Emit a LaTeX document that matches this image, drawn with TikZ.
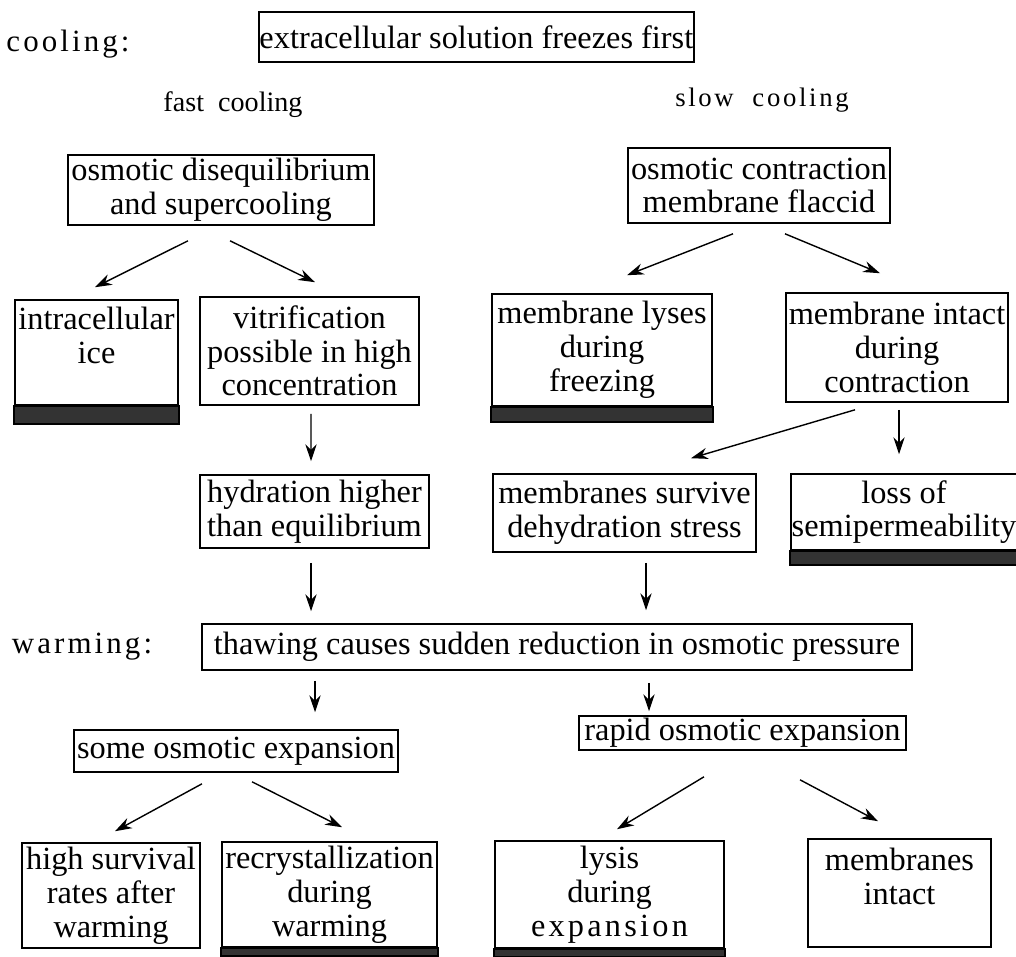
\documentclass[tikz,border=0pt]{standalone}
\usepackage{fontspec}
\setmainfont{Liberation Serif}
\newfontfamily\spacedfont[LetterSpace=10]{Liberation Serif}
\usetikzlibrary{arrows.meta,calc}

\begin{document}
\begin{tikzpicture}[x=0.025cm,y=-0.025cm,
  box/.style={draw,line width=1.1pt,align=center,inner sep=0.5pt,font=\fontsize{23}{24}\selectfont},
  bar/.style={draw,line width=1.1pt,fill=black!80},
  arr/.style={-{Stealth[length=12pt,width=8pt]},line width=1pt},
  lbl/.style={inner sep=0pt}]
\useasboundingbox (0,0) rectangle (1016,956);
% stage labels
\node[lbl,font=\spacedfont\fontsize{22}{22}\selectfont] (cool) at (68,44) {cooling:};
\node[lbl,font=\spacedfont\fontsize{22}{22}\selectfont] (warm) at (82,647) {warming:};
\node[lbl,font=\fontsize{20}{20}\selectfont] (fast) at (233,105) {fast~~cooling};
\node[lbl,font=\spacedfont\fontsize{19}{19}\selectfont] (slow) at (762,100) {slow~~cooling};
% cooling
\node[box,anchor=west,minimum height=1.25cm] (frz) at (258,37) {extracellular solution freezes first};
\node[box,minimum width=7.65cm,minimum height=1.75cm] (osm) at (221,190) {osmotic disequilibrium\\and supercooling};
\node[box,minimum width=6.55cm,minimum height=1.875cm] (con) at (759,185.5) {osmotic contraction\\membrane flaccid};
\node[box,minimum width=4.075cm,minimum height=2.625cm] (ice) at (96.5,352.5) {intracellular\\ice\\~};
\node[box,minimum width=5.475cm,minimum height=2.7cm] (vit) at (309.5,351) {vitrification\\possible in high\\concentration};
\node[box,minimum width=5.5cm,minimum height=2.8cm] (lys) at (602,350) {membrane lyses\\during\\freezing};
\node[box,minimum width=5.55cm,minimum height=2.725cm] (int) at (897,347.5) {membrane intact\\during\\contraction};
\node[box,minimum width=5.725cm,minimum height=1.825cm] (hyd) at (314.5,511.5) {hydration higher\\than equilibrium};
\node[box,minimum width=6.575cm,minimum height=1.95cm] (sur) at (624.5,513) {membranes survive\\dehydration stress};
\node[box,minimum width=5.55cm,minimum height=1.9cm] (sem) at (904,512) {loss of\\semipermeability};
% warming
\node[box,minimum width=17.75cm,minimum height=1.15cm] (thaw) at (557,647) {thawing causes sudden reduction in osmotic pressure};
\node[box,minimum width=8.1cm,minimum height=1.05cm] (some) at (236,751) {some osmotic expansion};
\node[box,minimum width=8.175cm,minimum height=0.85cm] (rap) at (742.5,733) {rapid osmotic expansion};
\node[box,minimum width=4.45cm,minimum height=2.625cm] (hig) at (111,895.5) {high survival\\rates after\\warming};
\node[box,minimum width=5.375cm,minimum height=2.625cm] (rec) at (329.5,894.5) {recrystallization\\during\\warming};
\node[box,minimum width=5.725cm,minimum height=2.675cm] (lex) at (609.5,894.5) {lysis\\during\\{\spacedfont expansion}};
\node[box,minimum width=4.575cm,minimum height=2.7cm] (mem) at (899.5,893) {membranes\\intact\\~};
% damage bars
\draw[bar] (ice.south west) rectangle ([yshift=-0.45cm]ice.south east);
\draw[bar] (lys.south west) rectangle ([yshift=-0.375cm]lys.south east);
\draw[bar] (sem.south west) rectangle ([yshift=-0.35cm]sem.south east);
\draw[bar] (rec.south west) rectangle ([yshift=-0.2cm]rec.south east);
\draw[bar] (lex.south west) rectangle ([yshift=-0.2cm]lex.south east);
% arrows
\draw[arr] ($(osm.south)+(-33,15)$) -- ($(ice.north)+(-1.5,-12)$);
\draw[arr] ($(osm.south)+(9,15)$) -- ($(vit.north)+(5.5,-14)$);
\draw[arr] ($(con.south)+(-26,10)$) -- ($(lys.north)+(25,-18)$);
\draw[arr] ($(con.south)+(26,10)$) -- ($(int.north)+(-17,-19)$);
\draw[arr] ($(vit.south)+(1.5,8)$) -- ($(hyd.north)+(-3.5,-13)$);
\draw[arr] ($(int.south)+(-42,7)$) -- ($(sur.north)+(66.5,-15)$);
\draw[arr] ($(int.south)+(2,7)$) -- ($(sem.north)+(-5,-19)$);
\draw[arr] ($(hyd.south)+(-3.5,14)$) -- ($(hyd.south |- thaw.north)+(-3.5,-12)$);
\draw[arr] ($(sur.south)+(21.5,10)$) -- ($(sur.south |- thaw.north)+(21.5,-13)$);
\draw[arr] ($(thaw.south -| hyd.south)+(0.5,10)$) -- ($(some.north -| hyd.south)+(0.5,-17)$);
\draw[arr] ($(thaw.south -| rap.north)+(-93.5,12)$) -- ($(rap.north)+(-93.5,-4)$);
\draw[arr] ($(some.south)+(-34,11)$) -- ($(hig.north)+(4,-11)$);
\draw[arr] ($(some.south)+(16,9)$) -- ($(rec.north)+(12.5,-14)$);
\draw[arr] ($(rap.south)+(-38.5,26)$) -- ($(lex.north)+(7.5,-11)$);
\draw[arr] ($(rap.south)+(57.5,29)$) -- ($(mem.north)+(-21.5,-17)$);
\end{tikzpicture}
\end{document}
